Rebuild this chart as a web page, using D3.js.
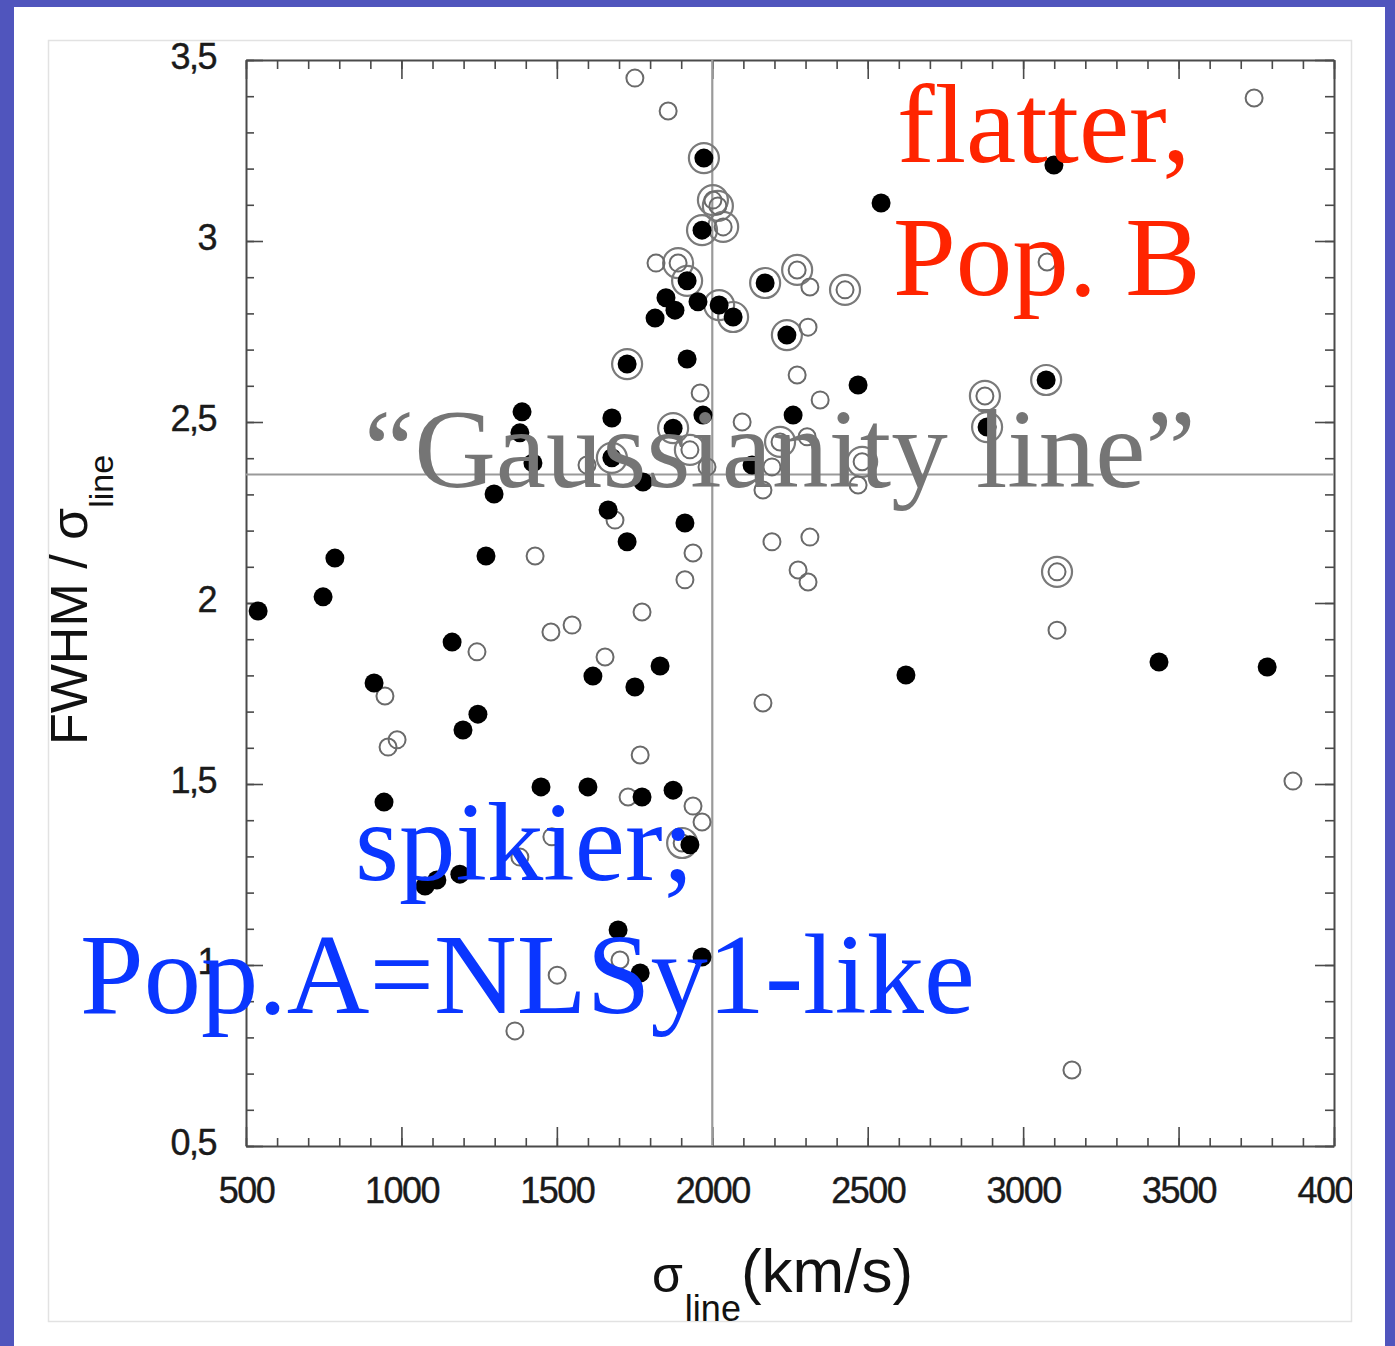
<!DOCTYPE html>
<html><head><meta charset="utf-8">
<script src="https://cdn.jsdelivr.net/npm/d3@7"></script>
<style>body{margin:0;background:#fff;overflow:hidden} svg{display:block}</style>
</head><body>
<script>
// ---- data ----
const xTickValues = [500, 1000, 1500, 2000, 2500, 3000, 3500, 4000];
const yTickValues = [0.5, 1, 1.5, 2, 2.5, 3, 3.5];
const yTickLabels = ["0,5", "1", "1,5", "2", "2,5", "3", "3,5"];
const gaussianityValue = 2.355;
const sigmaDivide = 2000;

// filled black dots
const filledX = [539,748,786,912,944,1076,1114,1188,1163,1198,1246,1272,1298,1388,1381,1423,1449,1600,1616,1677,1665,1726,1751,1777,1832,1912,1970,2260,2469,2623,2128,1774,1874,1697,1768,1967,1919,1851,1880,1816,1954,2543,3099,3437,3785,1928];
const filledY = [1.978,2.017,2.124,1.779,1.450,1.218,1.235,1.251,1.892,1.649,1.693,2.130,2.301,2.528,2.470,2.387,1.492,1.492,1.798,2.511,2.257,2.169,1.768,2.334,1.826,2.221,2.519,2.519,2.602,1.801,2.381,1.464,1.483,1.097,0.978,1.022,2.674,2.843,2.809,2.787,2.832,3.105,3.210,1.837,1.823,1.332];
// filled dots with an outer ring
const ringFilledX = [1973,1967,1919,2022,2067,2170,2240,1726,1874,1677,3074,2884];
const ringFilledY = [3.229,3.030,2.890,2.823,2.790,2.884,2.740,2.660,2.483,2.401,2.616,2.486];
// open circles with an outer ring
const ringOpenX = [2002,2018,2035,1890,2273,2427,2877,3109,1928,2218,2482,1903];
const ringOpenY = [3.113,3.097,3.039,2.939,2.920,2.865,2.572,2.086,2.423,2.445,2.390,1.337];
// open circles
const openX = [1751,1858,1819,2314,2308,3743,3077,2273,2347,1961,2096,2305,1597,1983,2192,2163,2469,1687,1938,1912,2192,2314,2276,2308,1774,1549,1481,1655,1430,1243,947,957,986,2163,1768,1729,1938,1967,1484,1381,1703,1501,1365,3157,3868,3109];
const openY = [3.450,3.359,2.939,2.873,2.762,3.395,2.942,2.630,2.561,2.580,2.500,2.459,2.381,2.376,2.376,2.312,2.326,2.229,2.138,2.064,2.169,2.182,2.091,2.058,1.975,1.939,1.920,1.851,2.130,1.865,1.743,1.602,1.622,1.724,1.580,1.464,1.439,1.395,1.354,1.298,1.014,0.972,0.818,0.710,1.508,1.925];

// ---- drawing ----
const W = 1395, H = 1346;
const svg = d3.select("body").append("svg").attr("width", W).attr("height", H);

svg.append("rect").attr("width", W).attr("height", H).attr("fill", "#5055bd");
svg.append("rect").attr("x", 14).attr("y", 7).attr("width", 1371).attr("height", H - 7).attr("fill", "#fff");
svg.append("rect").attr("x", 48.5).attr("y", 40.5).attr("width", 1303).attr("height", 1281)
  .attr("fill", "none").attr("stroke", "#e2e2e2").attr("stroke-width", 1.5);

svg.append("defs").append("clipPath").attr("id", "figclip")
  .append("rect").attr("x", 48).attr("y", 40).attr("width", 1304).attr("height", 1282);

const x = d3.scaleLinear().domain([500, 4000]).range([246, 1334]);
const y = d3.scaleLinear().domain([0.5, 3.5]).range([1146, 60]);
const minorX = d3.range(500, 4001, 100);
const minorY = d3.range(5, 36).map(v => v / 10);

const axisColor = "#4a4a4a";
function styleAxis(g) {
  g.selectAll("path.domain").attr("stroke", axisColor).attr("stroke-width", 2);
  g.selectAll(".tick line").attr("stroke", axisColor).attr("stroke-width", 1.6);
  g.selectAll(".tick text").attr("fill", "#1a1a1a").attr("font-family", "'Liberation Sans', Arial, sans-serif")
    .attr("font-size", 36).attr("letter-spacing", -1.5).attr("stroke", "#1a1a1a").attr("stroke-width", 0.4);
}

const fig = svg.append("g");

// minor ticks
fig.append("g").attr("transform", "translate(0,1146)")
  .call(d3.axisBottom(x).tickValues(minorX).tickSize(-8).tickFormat(""))
  .call(g => g.select(".domain").remove()).call(styleAxis);
fig.append("g").attr("transform", "translate(0,60)")
  .call(d3.axisTop(x).tickValues(minorX).tickSize(-9).tickFormat(""))
  .call(g => g.select(".domain").remove()).call(styleAxis);
fig.append("g").attr("transform", "translate(246,0)")
  .call(d3.axisLeft(y).tickValues(minorY).tickSize(-8).tickFormat(""))
  .call(g => g.select(".domain").remove()).call(styleAxis);
fig.append("g").attr("transform", "translate(1334,0)")
  .call(d3.axisRight(y).tickValues(minorY).tickSize(-9).tickFormat(""))
  .call(g => g.select(".domain").remove()).call(styleAxis);

// major ticks + labels (bottom labels clipped by the figure frame, like "400" in the picture)
fig.append("g").attr("clip-path", "url(#figclip)")
  .append("g").attr("transform", "translate(0,1146)")
  .call(d3.axisBottom(x).tickValues(xTickValues).tickSize(-19).tickSizeOuter(0).tickPadding(31).tickFormat(d3.format("d")))
  .call(styleAxis);
fig.append("g").attr("transform", "translate(0,60)")
  .call(d3.axisTop(x).tickValues(xTickValues).tickSize(-19).tickSizeOuter(0).tickFormat(""))
  .call(styleAxis);
fig.append("g").attr("transform", "translate(246,0)")
  .call(d3.axisLeft(y).tickValues(yTickValues).tickSize(-17).tickSizeOuter(0).tickPadding(30)
    .tickFormat((d, i) => yTickLabels[i]))
  .call(styleAxis)
  .call(g => g.selectAll(".tick text").attr("dy", "0.24em"));
fig.append("g").attr("transform", "translate(1334,0)")
  .call(d3.axisRight(y).tickValues(yTickValues).tickSize(-19).tickSizeOuter(0).tickFormat(""))
  .call(styleAxis);

// reference lines
fig.append("line").attr("x1", x(sigmaDivide)).attr("x2", x(sigmaDivide)).attr("y1", y(3.5)).attr("y2", y(0.5))
  .attr("stroke", "#9a9a9a").attr("stroke-width", 2.2);
fig.append("line").attr("x1", x(500)).attr("x2", x(4000)).attr("y1", y(gaussianityValue)).attr("y2", y(gaussianityValue))
  .attr("stroke", "#9a9a9a").attr("stroke-width", 2.2);

// markers
const ringData = ringFilledX.map((v, i) => [v, ringFilledY[i]]).concat(ringOpenX.map((v, i) => [v, ringOpenY[i]]));
const openData = openX.map((v, i) => [v, openY[i]]).concat(ringOpenX.map((v, i) => [v, ringOpenY[i]]));
const filledData = filledX.map((v, i) => [v, filledY[i]]).concat(ringFilledX.map((v, i) => [v, ringFilledY[i]]));

const pts = fig.append("g");
pts.selectAll("circle.ring").data(ringData).join("circle").attr("class", "ring")
  .attr("cx", d => x(d[0])).attr("cy", d => y(d[1])).attr("r", 15)
  .attr("fill", "none").attr("stroke", "#7a7a7a").attr("stroke-width", 2.2);
pts.selectAll("circle.open").data(openData).join("circle").attr("class", "open")
  .attr("cx", d => x(d[0])).attr("cy", d => y(d[1])).attr("r", 8.5)
  .attr("fill", "none").attr("stroke", "#6a6a6a").attr("stroke-width", 2);
pts.selectAll("circle.filled").data(filledData).join("circle").attr("class", "filled")
  .attr("cx", d => x(d[0])).attr("cy", d => y(d[1])).attr("r", 9.5)
  .attr("fill", "#000");

// axis titles
const sans = "'Liberation Sans', Arial, sans-serif";
const yt = fig.append("text").attr("transform", "translate(87,745) rotate(-90)")
  .attr("font-family", sans).attr("font-size", 52).attr("fill", "#111");
yt.append("tspan").text("FWHM / σ");
yt.append("tspan").attr("dy", 26).attr("font-size", 34).text("line");

const xt = fig.append("text").attr("x", 652).attr("y", 1292)
  .attr("font-family", sans).attr("font-size", 62).attr("fill", "#111");
xt.append("tspan").attr("font-size", 50).text("σ");
xt.append("tspan").attr("dy", 29).attr("font-size", 36).attr("dx", 2).text("line");
xt.append("tspan").attr("dy", -29).text("(km/s)");

// annotations
const serif = "'Liberation Serif', 'Times New Roman', serif";
const ann = svg.append("g").attr("font-family", serif).attr("font-size", 113);
ann.append("text").attr("x", 897).attr("y", 162).attr("fill", "#ff2400").text("flatter,");
ann.append("text").attr("x", 893).attr("y", 295).attr("fill", "#ff2400").text("Pop. B");
ann.append("text").attr("x", 364).attr("y", 487).attr("fill", "#757575").text("“Gaussianity line”");
ann.append("text").attr("x", 355).attr("y", 880).attr("fill", "#0a36ff").text("spikier;");
ann.append("text").attr("x", 80).attr("y", 1013).attr("fill", "#0a36ff").attr("font-size", 114.5).text("Pop.A=NLSy1-like");
</script>
</body></html>
